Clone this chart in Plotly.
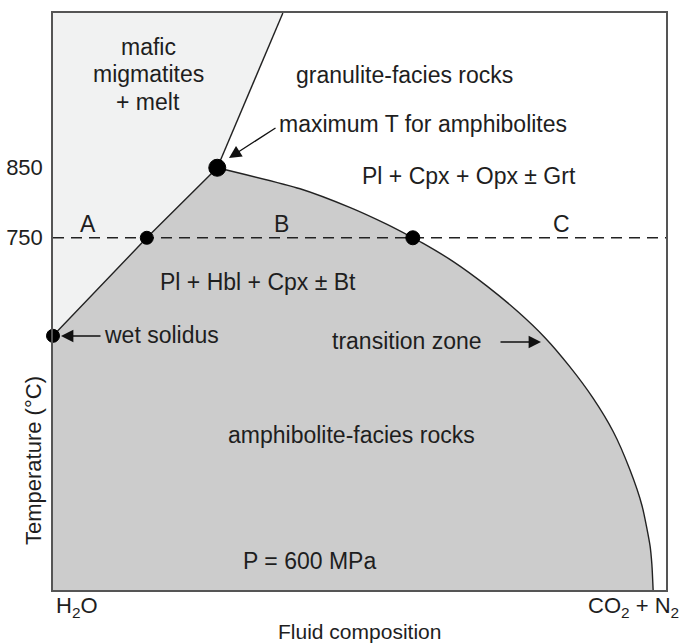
import plotly.graph_objects as go

# ---- data (x: fluid composition fraction, 0 = H2O, 1 = CO2 + N2; y: temperature, degC)
T_MIN, T_MAX = 247, 1071
solidus_x = [0.0, 0.153, 0.268]
solidus_T = [610, 750, 850]
upper_x = [0.268, 0.375]
upper_T = [850, 1071]
curve_x = [0.268, 0.403, 0.485, 0.545, 0.587, 0.604, 0.653, 0.708, 0.759, 0.803,
           0.843, 0.881, 0.914, 0.941, 0.961, 0.974, 0.977, 0.979]
curve_T = [850, 820, 793, 769, 750, 742, 716, 681, 644, 607,
           566, 521, 473, 419, 367, 310, 283, 247]
points_x = [0.0, 0.153, 0.268, 0.587]
points_T = [610, 750, 850, 750]
points_size = [13, 13, 17, 14]
ref_T = 750
ytick_vals = [750, 850]
ytick_text = ["750", "850"]

FONT = "Liberation Sans, Arial, sans-serif"
TXT = "#1e1e1e"

fig = go.Figure()

# light region (mafic migmatites + melt)
fig.add_trace(go.Scatter(
    x=[0.0, upper_x[1]] + upper_x[::-1][1:] + solidus_x[::-1][1:],
    y=[T_MAX, upper_T[1]] + upper_T[::-1][1:] + solidus_T[::-1][1:],
    fill="toself", fillcolor="#f1f2f2", line=dict(width=0),
    mode="lines", hoverinfo="skip", showlegend=False))

# amphibolite region
fig.add_trace(go.Scatter(
    x=solidus_x + curve_x[1:] + [0.0],
    y=solidus_T + curve_T[1:] + [T_MIN],
    fill="toself", fillcolor="#cccccc", line=dict(width=0),
    mode="lines", hoverinfo="skip", showlegend=False))

# boundary lines
for xs, ys in [(solidus_x, solidus_T), (upper_x, upper_T)]:
    fig.add_trace(go.Scatter(x=xs, y=ys, mode="lines",
                             line=dict(color="#222222", width=1.4),
                             hoverinfo="skip", showlegend=False))
fig.add_trace(go.Scatter(x=curve_x, y=curve_T, mode="lines",
                         line=dict(color="#222222", width=1.4, shape="spline", smoothing=0.6),
                         hoverinfo="skip", showlegend=False))

# dashed 750 line
fig.add_trace(go.Scatter(x=[0, 1], y=[ref_T, ref_T], mode="lines",
                         line=dict(color="#222222", width=1.4, dash="11px,7px"),
                         hoverinfo="skip", showlegend=False))

# points
fig.add_trace(go.Scatter(x=points_x, y=points_T, mode="markers",
                         marker=dict(color="#000000", size=points_size, opacity=1,
                                     line=dict(color="#000000", width=1)),
                         cliponaxis=False, hoverinfo="skip", showlegend=False))

W, H = 680, 644
L, R, Tm, B = 53, 14, 13, 54
PW, PH = W - L - R, H - Tm - B


def px(x):
    return (x - L) / PW


def py(y):
    return (H - B - y) / PH


ann = []


def txt(text, x, y, size=23, xanchor="center", angle=0):
    ann.append(dict(text=text, x=px(x), y=py(y), xref="paper", yref="paper",
                    showarrow=False, xanchor=xanchor, yanchor="middle",
                    textangle=angle,
                    font=dict(family=FONT, size=size, color=TXT)))


txt("mafic", 148, 47)
txt("migmatites", 148, 74)
txt("+ melt", 148, 102)
txt("granulite-facies rocks", 404, 75)
txt("maximum T for amphibolites", 423, 124)
txt("Pl + Cpx + Opx ± Grt", 469, 176)
txt("A", 88, 224)
txt("B", 281, 224)
txt("C", 561, 224)
txt("Pl + Hbl + Cpx ± Bt", 258, 282)
txt("wet solidus", 161, 335)
txt("transition zone", 407, 341)
txt("amphibolite-facies rocks", 351, 435)
txt("P = 600 MPa", 309, 561)
txt("H<sub>2</sub>O", 54, 607, size=22, xanchor="left")
txt("CO<sub>2</sub> + N<sub>2</sub>", 681, 607, size=22, xanchor="right")
txt("Fluid composition", 359, 631, size=21)
txt("Temperature (°C)", 33, 461, size=22, angle=-90)


def arrow(tip_x, tip_y, tail_x, tail_y):
    ann.append(dict(text="", x=px(tip_x), y=py(tip_y), xref="paper", yref="paper",
                    ax=tail_x - tip_x, ay=tail_y - tip_y, axref="pixel", ayref="pixel",
                    showarrow=True, arrowhead=2, arrowsize=1.9, arrowwidth=1.3,
                    arrowcolor="#111111", standoff=0))


arrow(229, 158, 277, 127)
arrow(61, 336, 102, 336)
arrow(541, 342, 499, 342)

fig.update_layout(
    width=W, height=H, margin=dict(l=L, r=R, t=Tm, b=B, autoexpand=False),
    paper_bgcolor="white", plot_bgcolor="white",
    annotations=ann,
    xaxis=dict(range=[0, 1], showgrid=False, zeroline=False, showticklabels=False,
               ticks="", showline=True, mirror=True, linecolor="#555555", linewidth=1.5,
               automargin=False),
    yaxis=dict(range=[T_MIN, T_MAX], showgrid=False, zeroline=False,
               tickvals=ytick_vals, ticktext=ytick_text, ticks="",
               ticklabelstandoff=4, automargin=False,
               tickfont=dict(family=FONT, size=22, color=TXT),
               showline=True, mirror=True, linecolor="#555555", linewidth=1.5),
    font=dict(family=FONT, color=TXT),
)

fig.write_html("out.html", config={"displayModeBar": False},
               post_script="document.body.style.margin='0px';")
